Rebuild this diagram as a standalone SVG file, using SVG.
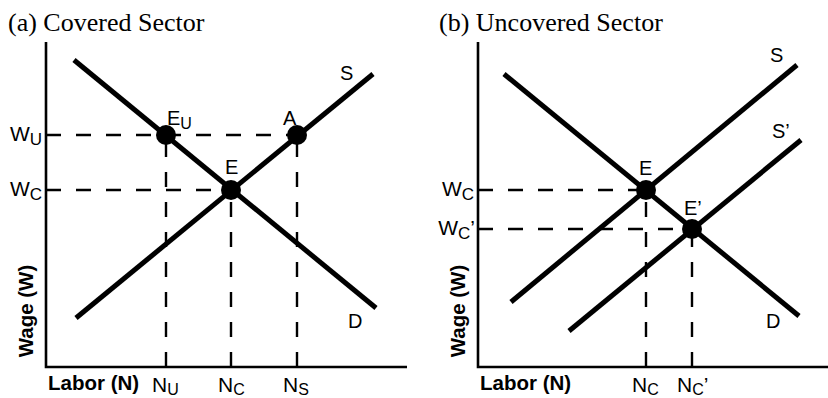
<svg xmlns="http://www.w3.org/2000/svg" width="828" height="398" viewBox="0 0 828 398">
<style>
.title{font-family:"Liberation Serif","Times New Roman",serif;font-size:26px;fill:#000}
.lbl{font-family:"Liberation Sans",Arial,sans-serif;font-size:20px;fill:#000}
.sub{font-size:16px}
.wl{font-family:"Liberation Sans",Arial,sans-serif;font-size:21px;fill:#000}
.ws{font-size:17px}
.ax{font-family:"Liberation Sans",Arial,sans-serif;font-size:20.5px;font-weight:bold;fill:#000}
.nl{font-family:"Liberation Sans",Arial,sans-serif;font-size:21px;fill:#000}
.ns{font-size:16px}
.axis{stroke:#000;stroke-width:2.6;fill:none}
.curve{stroke:#000;stroke-width:5;fill:none}
.dash{stroke:#000;stroke-width:2.4;stroke-dasharray:15 15;fill:none}
.dot{fill:#000}
</style>
<rect width="828" height="398" fill="#fff"/>
<text class="title" x="8" y="31">(a) Covered Sector</text>
<text class="title" x="439" y="31">(b) Uncovered Sector</text>
<g id="axes">
<path class="axis" d="M46,42 V367 H407"/>
<path class="axis" d="M478,42 V367 H828"/>
<text class="ax" transform="translate(33,311) rotate(-90)" text-anchor="middle">Wage (W)</text>
<text class="ax" transform="translate(465,311) rotate(-90)" text-anchor="middle">Wage (W)</text>
<text class="ax" x="48" y="390">Labor (N)</text>
<text class="ax" x="480" y="390">Labor (N)</text>
</g>
<g id="connectors">
<path class="dash" d="M46,135 H297"/>
<path class="dash" d="M46,190 H231"/>
<path class="dash" d="M166,367 V135"/>
<path class="dash" d="M231,367 V190"/>
<path class="dash" d="M297,367 V135"/>
<path class="dash" d="M478,190 H646"/>
<path class="dash" d="M478,229 H692"/>
<path class="dash" d="M646,367 V190"/>
<path class="dash" d="M692,367 V229"/>
</g>
<g id="curve-D-a"><path class="curve" d="M74,60 L376,308"/><text class="lbl" x="348" y="328">D</text></g>
<g id="curve-S-a"><path class="curve" d="M76,318 L373,74"/><text class="lbl" x="340" y="80">S</text></g>
<g id="curve-D-b"><path class="curve" d="M504,74 L799,316"/><text class="lbl" x="766" y="328">D</text></g>
<g id="curve-S-b"><path class="curve" d="M511,302 L797,65"/><text class="lbl" x="770" y="62">S</text></g>
<g id="curve-S2-b"><path class="curve" d="M569,331 L801,140"/><text class="lbl" x="772" y="138">S’</text></g>
<g id="node-EU"><circle class="dot" cx="166" cy="135" r="10"/><text class="lbl" x="167" y="125">E<tspan class="sub" dy="4">U</tspan></text></g>
<g id="node-A"><circle class="dot" cx="297" cy="135" r="10"/><text class="lbl" x="283" y="125">A</text></g>
<g id="node-E-a"><circle class="dot" cx="231" cy="190" r="10"/><text class="lbl" x="225" y="174">E</text></g>
<g id="node-E-b"><circle class="dot" cx="646" cy="190" r="10"/><text class="lbl" x="639" y="175">E</text></g>
<g id="node-E2-b"><circle class="dot" cx="692" cy="229" r="10"/><text class="lbl" x="684" y="215">E’</text></g>
<g id="ticks-a">
<text class="wl" x="42" y="141" text-anchor="end">W<tspan class="ws" dy="4">U</tspan></text>
<text class="wl" x="42" y="196" text-anchor="end">W<tspan class="ws" dy="4">C</tspan></text>
<text class="nl" x="152" y="392">N<tspan class="ns" dy="3">U</tspan></text>
<text class="nl" x="218" y="392">N<tspan class="ns" dy="3">C</tspan></text>
<text class="nl" x="283" y="392">N<tspan class="ns" dy="3">S</tspan></text>
</g>
<g id="ticks-b">
<text class="wl" x="474" y="196" text-anchor="end">W<tspan class="ws" dy="4">C</tspan></text>
<text class="wl" x="475" y="235" text-anchor="end">W<tspan class="ws" dy="4">C</tspan><tspan dy="-4">’</tspan></text>
<text class="nl" x="632" y="392">N<tspan class="ns" dy="3">C</tspan></text>
<text class="nl" x="677" y="392">N<tspan class="ns" dy="3">C</tspan><tspan dy="-3">’</tspan></text>
</g>
</svg>
